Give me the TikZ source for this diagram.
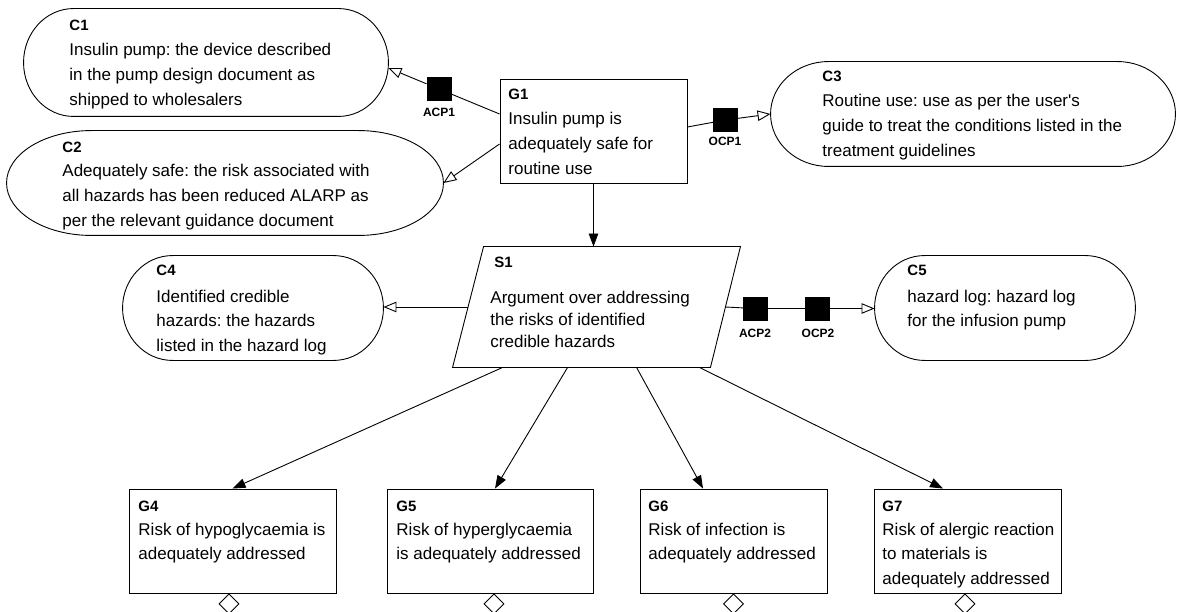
\documentclass[tikz,border=0pt]{standalone}
\usepackage{fontspec}
\setmainfont{Liberation Sans}
\usetikzlibrary{arrows.meta,calc,shapes.geometric}
\frenchspacing
\newcommand{\bodyfnt}{\fontsize{17}{24.6}\selectfont}
\newcommand{\sbodyfnt}{\fontsize{17}{22}\selectfont}
\newcommand{\ttlfnt}{\fontsize{15}{18}\selectfont\bfseries}
\newcommand{\lblfnt}{\fontsize{12}{14}\selectfont\bfseries}
\newcommand{\blk}[1]{\begin{tabular}[t]{@{}l@{}}#1\end{tabular}}
\begin{document}
\begin{tikzpicture}[x=1pt,y=-1pt,line width=0.9pt,
  box/.style={draw, rectangle, inner sep=0pt, minimum height=104pt},
  ctx/.style={rectangle, inner sep=0pt},
  sq/.style={rectangle, fill=black, draw=black, inner sep=0pt, minimum width=24pt, minimum height=23pt},
  hd/.style={anchor=base west, inner sep=0pt, font=\ttlfnt},
  bd/.style={anchor=base west, inner sep=0pt, font=\bodyfnt},
  lbl/.style={anchor=base, inner sep=0pt, font=\lblfnt},
  supby/.style={-{Triangle[length=13pt,width=9.5pt]}},
  inctx/.style={-{Triangle[open,length=13pt,width=10.5pt]}},
  dia/.style={draw, diamond, inner sep=0pt, minimum width=20pt, minimum height=20pt, anchor=north, fill=white}
]
\fill[white] (0,0) rectangle (1177,612);
\useasboundingbox (0,0) rectangle (1177,612);

% goal and strategy frames
\node[box, minimum width=187pt] (G1) at (593.5,131) {};
\node[ctx, minimum width=287pt, minimum height=120pt] (S1) at (596.5,307) {};
\node[box, minimum width=207pt] (G4) at (232.5,541) {};
\node[box, minimum width=206pt] (G5) at (490,541) {};
\node[box, minimum width=187pt] (G6) at (733.5,541) {};
\node[box, minimum width=187pt] (G7) at (967.5,541) {};

% context frames
\node[ctx, minimum width=364pt, minimum height=107pt] (C1) at (206,62.5) {};
\node[ctx, minimum width=436pt, minimum height=104pt] (C2) at (225,183) {};
\node[ctx, minimum width=404pt, minimum height=104pt] (C3) at (973,114) {};
\node[ctx, minimum width=260pt, minimum height=104pt] (C4) at (253,308) {};
\node[ctx, minimum width=260pt, minimum height=104pt] (C5) at (1005,308) {};

\foreach \nm/\rr in {C1/50,C2/85,C3/58,C4/50,C5/50}{
  \draw ([xshift=\rr]\nm.north west) -- ([xshift=-\rr]\nm.north east)
    .. controls ([xshift=-0.448*\rr]\nm.north east) and ($(\nm.east)!0.552!(\nm.north east)$) .. (\nm.east)
    .. controls ($(\nm.east)!0.552!(\nm.south east)$) and ([xshift=-0.448*\rr]\nm.south east) .. ([xshift=-\rr]\nm.south east)
    -- ([xshift=\rr]\nm.south west)
    .. controls ([xshift=0.448*\rr]\nm.south west) and ($(\nm.west)!0.552!(\nm.south west)$) .. (\nm.west)
    .. controls ($(\nm.west)!0.552!(\nm.north west)$) and ([xshift=0.448*\rr]\nm.north west) .. ([xshift=\rr]\nm.north west) -- cycle;
}

% strategy parallelogram
\draw (S1.south west) -- ([xshift=-30]S1.south east) -- (S1.north east) -- ([xshift=31]S1.north west) -- cycle;

% diamonds (undeveloped)
\node[dia] (D4) at ([xshift=-3.5]G4.south) {};
\node[dia] (D5) at ([xshift=4]G5.south) {};
\node[dia] (D6) at (G6.south) {};
\node[dia] (D7) at ([xshift=-2.5]G7.south) {};

% assumption / justification squares
\node[sq] (ACP1) at (439,89) {};
\node[sq] (OCP1) at (725.5,120) {};
\node[sq] (ACP2) at (755,308.5) {};
\node[sq] (OCP2) at (817.5,308.5) {};
\node[lbl] (ACP1l) at (439,117) {ACP1};
\node[lbl] (OCP1l) at (725,146) {OCP1};
\node[lbl] (ACP2l) at (755,337) {ACP2};
\node[lbl] (OCP2l) at (818,337) {OCP2};

% connector end points
\coordinate (G1a) at ($(G1.west)+(0,-17)$);
\coordinate (G1b) at ($(G1.west)+(0,13)$);
\coordinate (G1c) at ($(G1.east)+(0,-4)$);
\coordinate (C1a) at ($(C1.east)+(0,5.5)$);
\coordinate (S1l) at ($(S1.west)+(15.5,0)$);
\coordinate (S1r) at ($(S1.east)+(-15,0)$);
\coordinate (S1s4) at ($(S1.south west)+(50,0)$);
\coordinate (S1s5) at ($(S1.south west)+(115,0)$);
\coordinate (S1s6) at ($(S1.south west)+(184,0)$);
\coordinate (S1s7) at ($(S1.south west)+(247,0)$);

% connectors
\draw (G1a) -- (ACP1.center);
\draw[inctx] (ACP1) -- (C1a);
\draw[inctx] (G1b) -- (C2.east);
\draw (G1c) -- (OCP1.center);
\draw[inctx] (OCP1) -- (C3.west);
\draw[supby] (G1.south) -- (G1.south |- S1.north);
\draw[inctx] (S1l) -- (S1l -| C4.east);
\draw (S1r) -- (ACP2.center) -- (OCP2.center);
\draw[inctx] (OCP2) -- (OCP2 -| C5.west);
\draw[supby] (S1s4) -- (G4.north);
\draw[supby] (S1s5) -- ([xshift=5]G5.north);
\draw[supby] (S1s6) -- ([xshift=-30.5]G6.north);
\draw[supby] (S1s7) -- ([xshift=-24.5]G7.north);

% texts
\node[hd] (C1h) at (69,31) {C1};
\node[bd] (C1b) at (69,56) {\blk{Insulin pump: the device described\\in the pump design document as\\shipped to wholesalers}};
\node[hd] (C2h) at (62,153) {C2};
\node[bd] (C2b) at (62,177) {\blk{Adequately safe: the risk associated with\\all hazards has been reduced ALARP as\\per the relevant guidance document}};
\node[hd] (G1h) at (508,100) {G1};
\node[bd] (G1b) at (508,125) {\blk{Insulin pump is\\adequately safe for\\routine use}};
\node[hd] (C3h) at (822,82) {C3};
\node[bd] (C3b) at (822,107) {\blk{Routine use: use as per the user\textquotesingle s\\guide to treat the conditions listed in the\\treatment guidelines}};
\node[hd] (C4h) at (156,275) {C4};
\node[bd] (C4b) at (156,302) {\blk{Identified credible\\hazards: the hazards\\listed in the hazard log}};
\node[hd] (C5h) at (907,276) {C5};
\node[bd] (C5b) at (907,302) {\blk{hazard log: hazard log\\for the infusion pump}};
\node[hd] (S1h) at (494,267) {S1};
\node[bd, font=\sbodyfnt] (S1b) at (490,303) {\blk{Argument over addressing\\the risks of identified\\credible hazards}};
\node[hd] (G4h) at (138,511) {G4};
\node[bd] (G4b) at (138,535) {\blk{Risk of hypoglycaemia is\\adequately addressed}};
\node[hd] (G5h) at (396,511) {G5};
\node[bd] (G5b) at (396,535) {\blk{Risk of hyperglycaemia\\is adequately addressed}};
\node[hd] (G6h) at (648,511) {G6};
\node[bd] (G6b) at (648,535) {\blk{Risk of infection is\\adequately addressed}};
\node[hd] (G7h) at (882,511) {G7};
\node[bd] (G7b) at (882,535) {\blk{Risk of alergic reaction\\to materials is\\adequately addressed}};
\end{tikzpicture}
\end{document}
